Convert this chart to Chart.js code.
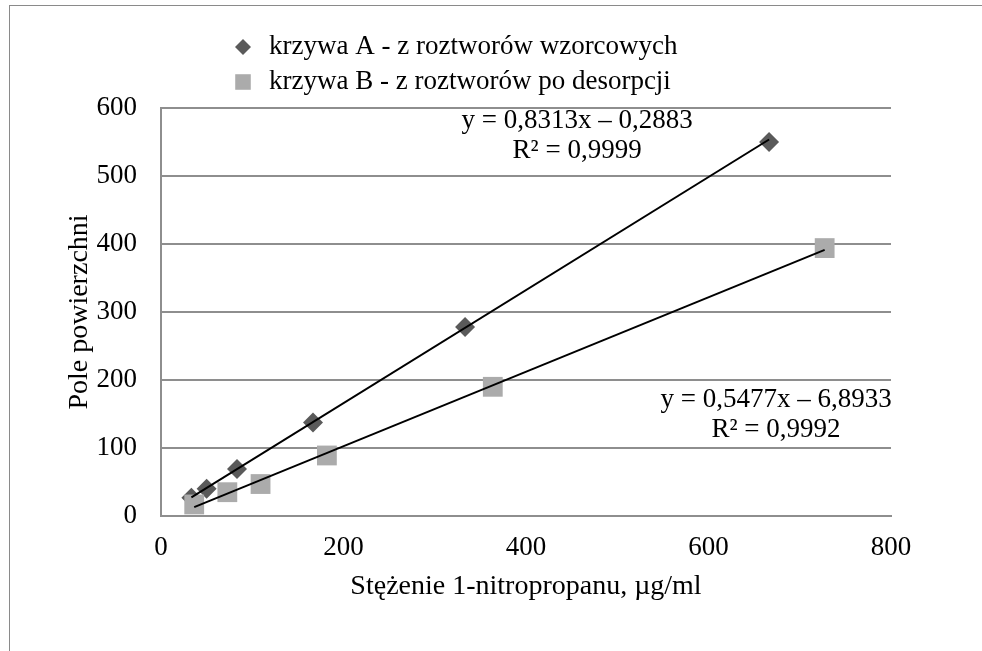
<!DOCTYPE html>
<html>
<head>
<meta charset="utf-8">
<script src="https://cdn.jsdelivr.net/npm/chart.js@4/dist/chart.umd.min.js"></script>
<style>
  body { margin: 0; background: #fff; }
  #wrap { position: relative; width: 982px; height: 651px; }
  #frame {
    position: absolute; left: 9px; top: 5px; right: -2px; bottom: -2px;
    border-left: 1px solid #8a8a8a; border-top: 1px solid #8a8a8a;
    pointer-events: none;
  }
</style>
</head>
<body>
<div id="wrap">
  <canvas id="chart" width="982" height="651"></canvas>
  <div id="frame"></div>
</div>
<script>
// krzywa A - z roztworów wzorcowych
const xA = [33.3, 50, 83.3, 166.6, 333.2, 666.4];
const yA = [27, 40, 69, 137.5, 278, 550];
// krzywa B - z roztworów po desorpcji
const xB = [36.4, 72.7, 109.1, 181.8, 363.6, 727.3];
const yB = [17, 35, 47, 89, 190, 394];

const seriesNames = ["krzywa A - z roztworów wzorcowych", "krzywa B - z roztworów po desorpcji"];
const slopes = [0.8313, 0.5477];
const intercepts = [-0.2883, -6.8933];
const eqLabels = ["y = 0,8313x – 0,2883", "y = 0,5477x – 6,8933"];
const r2Labels = ["R² = 0,9999", "R² = 0,9992"];

const xTicks = [0, 200, 400, 600, 800];
const yTicks = [0, 100, 200, 300, 400, 500, 600];

const FONT = "'Liberation Serif', 'Times New Roman', serif";
const colA = "#5a5a5a";
const colB = "#ababab";
const gridCol = "#8e8e8e";

const pts = (xs, ys) => xs.map((x, i) => ({ x: x, y: ys[i] }));
function trend(xs, k) {
  const lo = Math.min(...xs), hi = Math.max(...xs);
  return [lo, hi].map((x) => ({ x: x, y: slopes[k] * x + intercepts[k] }));
}

// legend + equation labels drawn on top of the chart
const extras = {
  id: "extras",
  afterDraw(chart) {
    const ctx = chart.ctx;
    const sx = chart.scales.x, sy = chart.scales.y;
    ctx.save();
    ctx.font = "27px " + FONT;
    ctx.fillStyle = "#000";
    ctx.textBaseline = "middle";
    // legend
    const marks = [
      { style: "rectRot", r: 8, c: colA, y: 47 },
      { style: "rect", r: 11, c: colB, y: 82 },
    ];
    marks.forEach((m, i) => {
      ctx.fillStyle = m.c;
      ctx.strokeStyle = m.c;
      Chart.helpers.drawPoint(ctx, { pointStyle: m.style, radius: m.r, borderWidth: 0 }, 243, m.y);
      ctx.fillStyle = "#000";
      ctx.textAlign = "left";
      ctx.fillText(seriesNames[i], 269, m.y);
    });
    // trendline equations
    ctx.textAlign = "center";
    const pos = [
      { x: sx.getPixelForValue(456), y: sy.getPixelForValue(581) },
      { x: sx.getPixelForValue(674), y: sy.getPixelForValue(171) },
    ];
    pos.forEach((p, i) => {
      ctx.fillText(eqLabels[i], p.x, p.y);
      ctx.fillText(r2Labels[i], p.x, p.y + 30);
    });
    ctx.restore();
  },
};

new Chart(document.getElementById("chart"), {
  type: "scatter",
  data: {
    datasets: [
      {
        label: "trendA", data: trend(xA, 0), type: "line",
        borderColor: "#000", borderWidth: 2, pointRadius: 0, fill: false,
      },
      {
        label: "trendB", data: trend(xB, 1), type: "line",
        borderColor: "#000", borderWidth: 2, pointRadius: 0, fill: false,
      },
      {
        label: seriesNames[1], data: pts(xB, yB),
        pointStyle: "rect", pointRadius: 14, backgroundColor: colB, borderWidth: 0,
      },
      {
        label: seriesNames[0], data: pts(xA, yA),
        pointStyle: "rectRot", pointRadius: 10, backgroundColor: colA, borderWidth: 0,
      },
    ],
  },
  options: {
    responsive: false,
    animation: false,
    layout: { padding: { left: 0, top: 108, right: 91, bottom: 0 } },
    plugins: { legend: { display: false }, tooltip: { enabled: false } },
    scales: {
      x: {
        type: "linear", min: 0, max: 800,
        afterBuildTicks: (s) => { s.ticks = xTicks.map((v) => ({ value: v })); },
        afterFit: (s) => { s.height = 135; },
        grid: { display: false, drawTicks: false },
        border: { color: gridCol, width: 2 },
        ticks: { color: "#000", font: { family: FONT, size: 27 }, padding: 16 },
        title: {
          display: true, text: "Stężenie 1-nitropropanu, µg/ml", color: "#000",
          font: { family: FONT, size: 28 }, padding: { top: 0, bottom: 48 },
        },
      },
      y: {
        type: "linear", min: 0, max: 600,
        afterBuildTicks: (s) => { s.ticks = yTicks.map((v) => ({ value: v })); },
        afterFit: (s) => { s.width = 161; },
        grid: { color: gridCol, lineWidth: 2, drawTicks: false },
        border: { color: gridCol, width: 2 },
        ticks: { color: "#000", font: { family: FONT, size: 27 }, padding: 24 },
        title: {
          display: true, text: "Pole powierzchni", color: "#000",
          font: { family: FONT, size: 28 }, padding: { top: 63, bottom: 0 },
        },
      },
    },
  },
  plugins: [extras],
});
</script>
</body>
</html>
